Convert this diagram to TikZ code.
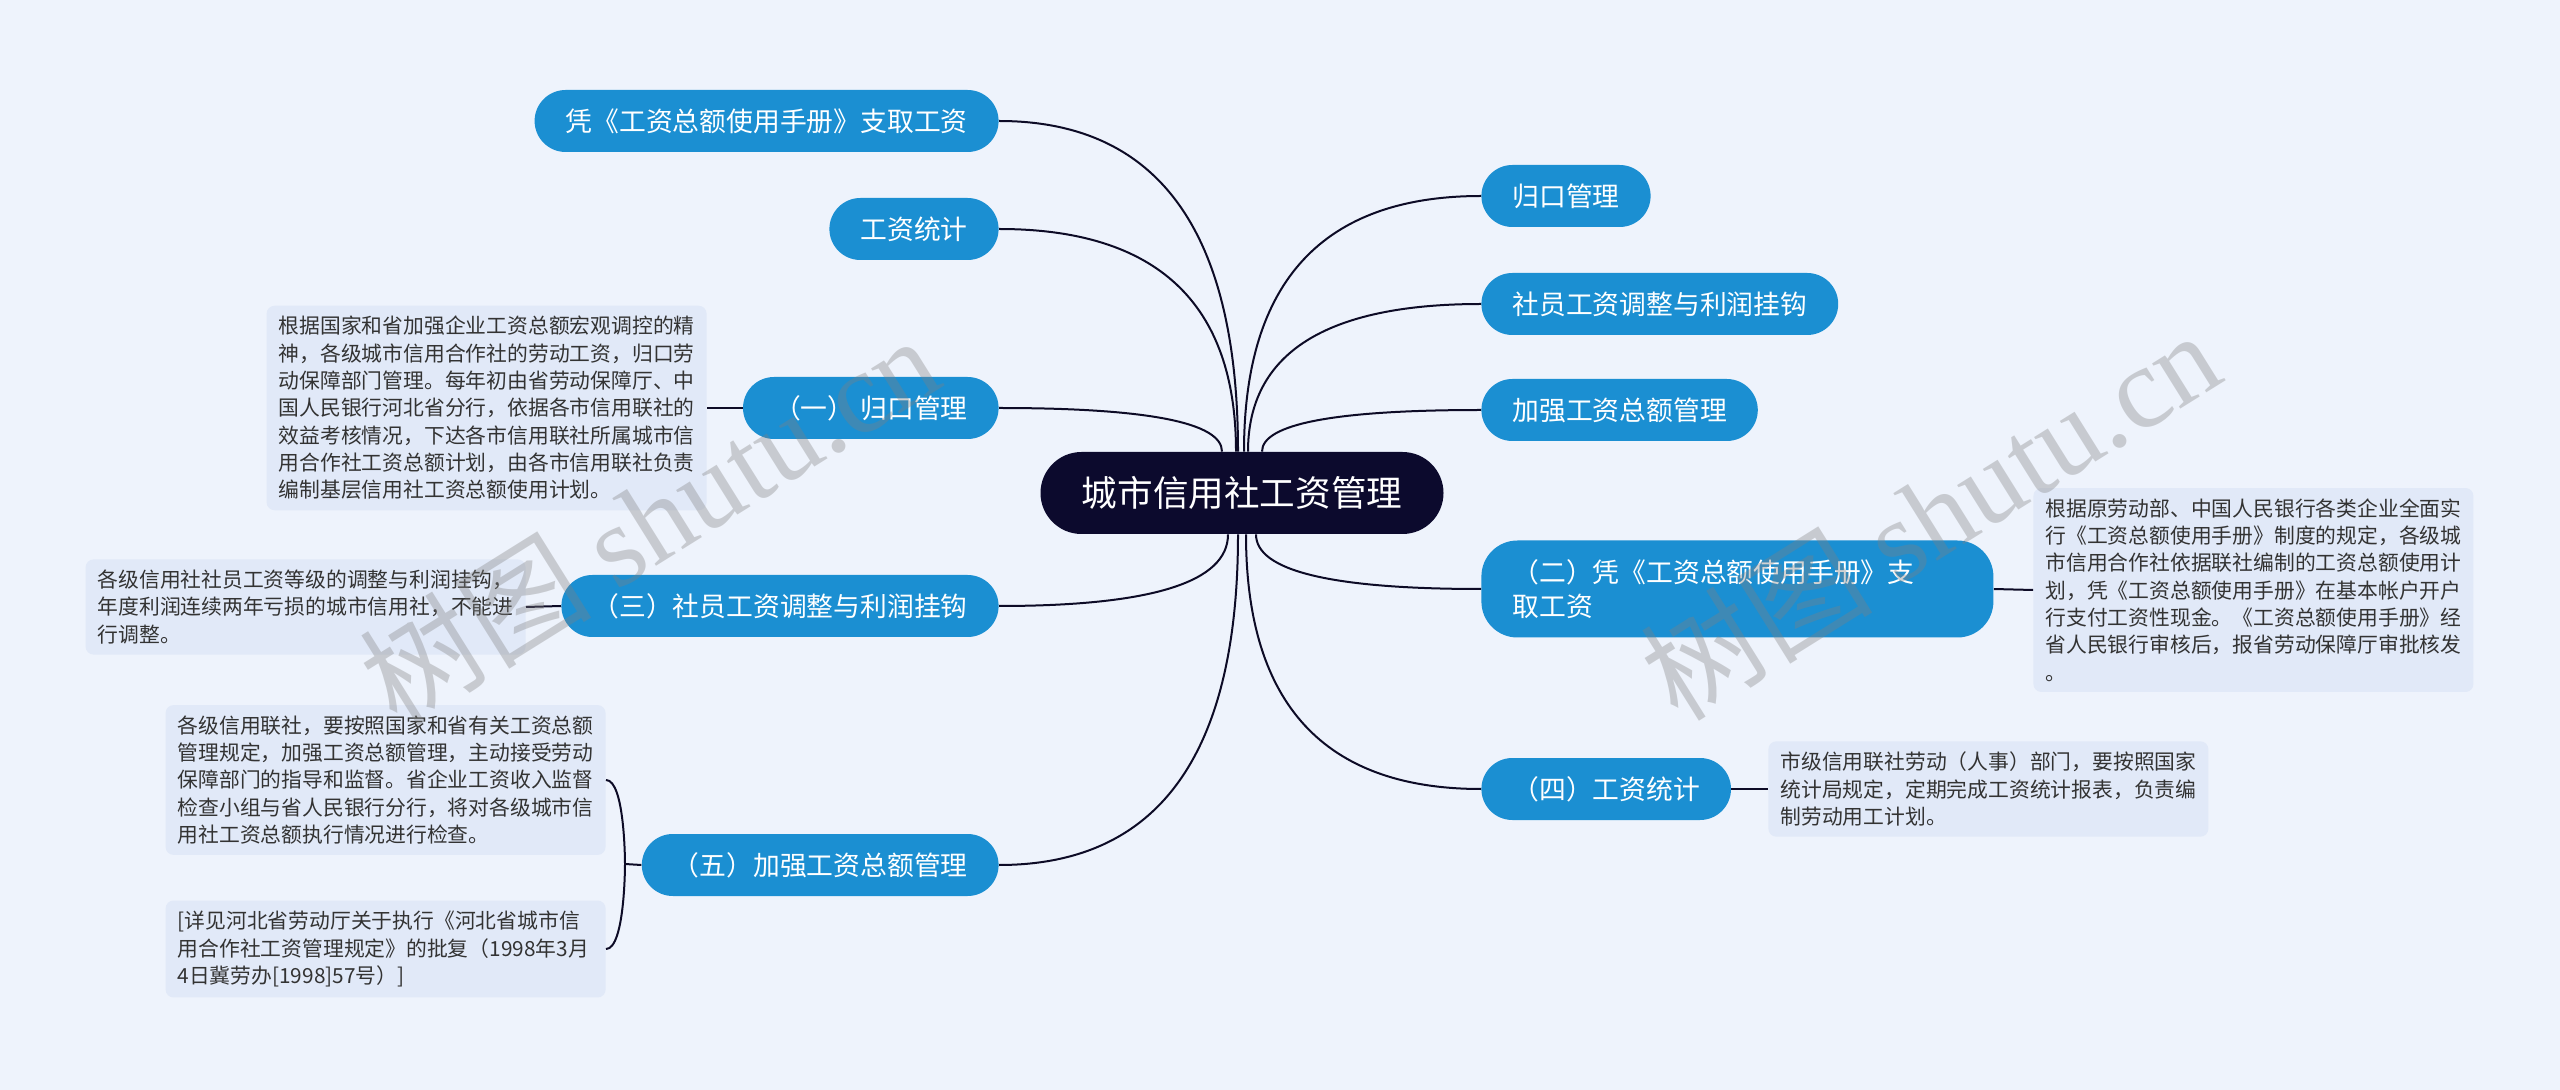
\documentclass[tikz,border=0pt]{standalone}
\usepackage{fontspec}
\setmainfont{Noto Sans CJK SC}
\newfontfamily\wmlatin{Liberation Serif}
\usetikzlibrary{calc}

\definecolor{bgcol}{HTML}{EEF3FC}
\definecolor{rootcol}{HTML}{0C0A2D}
\definecolor{topiccol}{HTML}{1B8FD2}
\definecolor{notecol}{HTML}{E1E9F8}
\definecolor{notetext}{HTML}{333333}
\definecolor{linecol}{HTML}{0D0B26}

\tikzset{
    rootnode/.style={fill=rootcol, text=white, rounded corners=20.5pt,
        minimum height=41pt, minimum width=201.5pt,
        font=\fontsize{17.8pt}{20pt}\selectfont},
    topic/.style={fill=topiccol, text=white, rounded corners=15.5pt,
        minimum height=31pt, inner xsep=15.5pt, inner ysep=0pt,
        font=\fontsize{13.4pt}{17pt}\selectfont},
    note/.style={fill=notecol, text=notetext, rounded corners=4pt,
        text width=208pt, align=left, inner xsep=6pt, inner ysep=5.3pt,
        font=\fontsize{10.4pt}{13.65pt}\selectfont},
    branch/.style={draw=linecol, line width=1pt},
    wmark/.style={text=gray, opacity=0.35, rotate=32,
        font=\fontsize{58pt}{60pt}\selectfont}
}

\begin{document}
\begin{tikzpicture}[
    % one unit = one pixel of the 2560x1090 canvas, y runs downwards
    x=0.5pt,
    y=-0.5pt
]
    % --- Background (fixes the page size) ---
    \fill[bgcol] (0,0) rectangle (2560,1090);

    % --- Root ---
    \node[rootnode] (c) at (1242,493) {城市信用社工资管理};

    % --- Left topics ---
    \node[topic, anchor=east] (l1) at (999,121) {凭《工资总额使用手册》支取工资};
    \node[topic, anchor=east] (l2) at (999,229) {工资统计};
    \node[topic, anchor=east] (l3) at (999,408) {（一） 归口管理};
    \node[topic, anchor=east] (l4) at (999,606) {（三）社员工资调整与利润挂钩};
    \node[topic, anchor=east] (l5) at (999,865) {（五）加强工资总额管理};

    % --- Right topics ---
    \node[topic, anchor=west] (r1) at (1481,196) {归口管理};
    \node[topic, anchor=west] (r2) at (1481,304) {社员工资调整与利润挂钩};
    \node[topic, anchor=west] (r3) at (1481,410) {加强工资总额管理};
    \node[topic, anchor=west, minimum height=48.5pt, rounded corners=18pt,
        text width=225pt, align=left] (r4) at (1481,589)
        {（二）凭《工资总额使用手册》支\\取工资};
    \node[topic, anchor=west] (r5) at (1481,789) {（四）工资统计};

    % --- Notes ---
    \node[note, anchor=east] (d1) at (707,408) {根据国家和省加强企业工资总额宏观调控的精\\神，各级城市信用合作社的劳动工资，归口劳\\动保障部门管理。每年初由省劳动保障厅、中\\国人民银行河北省分行，依据各市信用联社的\\效益考核情况，下达各市信用联社所属城市信\\用合作社工资总额计划，由各市信用联社负责\\编制基层信用社工资总额使用计划。};
    \node[note, anchor=east] (d3) at (526,607) {各级信用社社员工资等级的调整与利润挂钩，\\年度利润连续两年亏损的城市信用社，不能进\\行调整。};
    \node[note, anchor=east] (d5a) at (606,780) {各级信用联社，要按照国家和省有关工资总额\\管理规定，加强工资总额管理，主动接受劳动\\保障部门的指导和监督。省企业工资收入监督\\检查小组与省人民银行分行，将对各级城市信\\用社工资总额执行情况进行检查。};
    \node[note, anchor=east] (d5b) at (606,949) {[详见河北省劳动厅关于执行《河北省城市信\\用合作社工资管理规定》的批复（1998年3月\\4日冀劳办[1998]57号）]};
    \node[note, anchor=west] (d2) at (2033,590) {根据原劳动部、中国人民银行各类企业全面实\\行《工资总额使用手册》制度的规定，各级城\\市信用合作社依据联社编制的工资总额使用计\\划，凭《工资总额使用手册》在基本帐户开户\\行支付工资性现金。《工资总额使用手册》经\\省人民银行审核后，报省劳动保障厅审批核发\\。};
    \node[note, anchor=west] (d4) at (1768,789) {市级信用联社劳动（人事）部门，要按照国家\\统计局规定，定期完成工资统计报表，负责编\\制劳动用工计划。};

    % --- Branches from the root ---
    \foreach \n/\a/\d in {l1/north/-4, l2/north/-6, l3/north/-20, l4/south/-14, l5/south/-4} {
        \coordinate (s) at ($(c.\a)+(\d,0)$);
        \draw[branch] (s) .. controls ($(s)!2/3!(s |- \n.east)$) and ($(\n.east)!2/3!(s |- \n.east)$) .. (\n.east);
    }
    \foreach \n/\a/\d in {r1/north/2, r2/north/6, r3/north/20, r4/south/14, r5/south/4} {
        \coordinate (s) at ($(c.\a)+(\d,0)$);
        \draw[branch] (s) .. controls ($(s)!2/3!(s |- \n.west)$) and ($(\n.west)!2/3!(s |- \n.west)$) .. (\n.west);
    }

    % --- Topics to their notes ---
    \draw[branch] (l3.west) -- (d1.east);
    \draw[branch] (l4.west) -- (d3.east);
    \draw[branch] (r4.east) -- (d2.west);
    \draw[branch] (r5.east) -- (d4.west);

    % --- Bracket for (五) ---
    \coordinate (k) at (625,864);
    \draw[branch] (l5.west) -- (k);
    \draw[branch] (d5a.east) .. controls (d5a.east -| k) and (k) .. (k)
        .. controls (k) and (d5b.east -| k) .. (d5b.east);

    % --- Watermarks ---
    \node[wmark] (w1) at (649,519) {树图 {\wmlatin shutu.cn}};
    \node[wmark] (w2) at (1930,514) {树图 {\wmlatin shutu.cn}};

\end{tikzpicture}
\end{document}
